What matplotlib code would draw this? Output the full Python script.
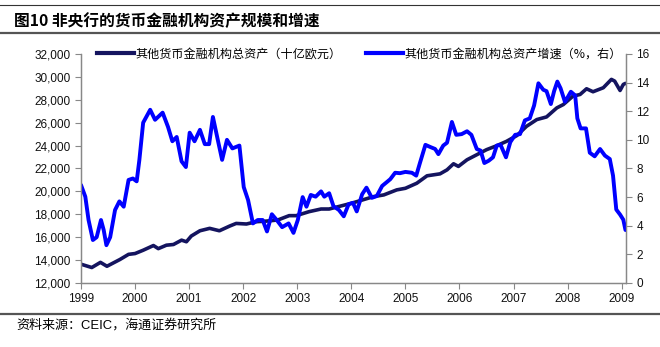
import matplotlib
matplotlib.use("Agg")
import matplotlib.pyplot as plt
from matplotlib.lines import Line2D
from matplotlib.ticker import FuncFormatter

plt.rcParams['font.family'] = ['Liberation Sans', 'Noto Sans CJK SC', 'DejaVu Sans']

# total assets of non-central-bank MFIs (bn EUR), left axis
asset_t = [1999.00, 1999.20, 1999.36, 1999.48, 1999.72, 1999.88, 2000.00, 2000.15, 2000.34,
           2000.43, 2000.58, 2000.71, 2000.86, 2000.95, 2001.04, 2001.20, 2001.38, 2001.56,
           2001.75, 2001.87, 2002.06, 2002.24, 2002.42, 2002.64, 2002.85, 2002.98, 2003.22,
           2003.44, 2003.59, 2004.00, 2004.41, 2004.60, 2004.84, 2005.00, 2005.21, 2005.40,
           2005.64, 2005.77, 2005.89, 2005.98, 2006.14, 2006.32, 2006.50, 2006.69, 2006.87,
           2007.06, 2007.24, 2007.43, 2007.61, 2007.80, 2007.92, 2008.10, 2008.23, 2008.35,
           2008.47, 2008.66, 2008.81, 2008.87, 2008.97, 2009.03, 2009.07]
assets = [13640, 13350, 13800, 13460, 14050, 14500, 14570, 14860, 15270,
          15000, 15300, 15360, 15740, 15600, 16100, 16560, 16770, 16560,
          16970, 17200, 17150, 17350, 17400, 17500, 17880, 17880, 18230,
          18460, 18460, 18960, 19540, 19690, 20130, 20270, 20710, 21360,
          21530, 21880, 22410, 22180, 22760, 23200, 23640, 23990, 24370,
          24870, 25680, 26270, 26500, 27290, 27580, 28320, 28460, 28960,
          28700, 29050, 29780, 29630, 28810, 29340, 29430]

# growth rate (%), right axis
growth_t = [1999.00, 1999.08, 1999.14, 1999.22, 1999.29, 1999.37, 1999.42, 1999.47, 1999.54,
            1999.63, 1999.71, 1999.79, 1999.88, 1999.96, 2000.03, 2000.08, 2000.15, 2000.28,
            2000.37, 2000.51, 2000.61, 2000.69, 2000.77, 2000.86, 2000.94, 2001.01, 2001.10,
            2001.20, 2001.29, 2001.37, 2001.44, 2001.53, 2001.61, 2001.70, 2001.80, 2001.93,
            2002.01, 2002.09, 2002.18, 2002.27, 2002.36, 2002.44, 2002.53, 2002.62, 2002.72,
            2002.84, 2002.93, 2003.01, 2003.10, 2003.17, 2003.25, 2003.34, 2003.44, 2003.50,
            2003.59, 2003.67, 2003.77, 2003.86, 2003.95, 2004.03, 2004.10, 2004.20, 2004.28,
            2004.38, 2004.47, 2004.57, 2004.66, 2004.72, 2004.81, 2004.90, 2005.00, 2005.12,
            2005.20, 2005.27, 2005.37, 2005.46, 2005.55, 2005.61, 2005.70, 2005.77, 2005.86,
            2005.94, 2006.04, 2006.14, 2006.22, 2006.32, 2006.39, 2006.46, 2006.54, 2006.62,
            2006.69, 2006.76, 2006.86, 2006.94, 2007.03, 2007.12, 2007.21, 2007.30, 2007.38,
            2007.46, 2007.55, 2007.61, 2007.69, 2007.75, 2007.81, 2007.87, 2007.95, 2007.99,
            2008.06, 2008.14, 2008.18, 2008.24, 2008.34, 2008.41, 2008.50, 2008.60, 2008.69,
            2008.78, 2008.84, 2008.90, 2008.97, 2009.03, 2009.07]
growth = [6.85, 6.03, 4.4, 3.0, 3.2, 4.4, 3.7, 2.64, 3.2,
          5.1, 5.7, 5.33, 7.2, 7.3, 7.1, 8.6, 11.2, 12.1,
          11.4, 11.9, 10.9, 9.9, 10.2, 8.5, 8.1, 10.5, 9.9,
          10.7, 9.7, 9.7, 11.6, 10.0, 8.6, 10.0, 9.4, 9.6,
          6.7, 5.8, 4.16, 4.4, 4.4, 3.6, 4.8, 4.4, 3.9,
          4.16, 3.5, 4.4, 6.0, 5.33, 6.15, 6.03, 6.4, 6.03,
          6.27, 5.36, 5.1, 4.66, 5.5, 5.6, 5.0, 6.2, 6.66,
          5.95, 6.07, 6.78, 7.06, 7.25, 7.7, 7.67, 7.76, 7.7,
          7.5, 8.4, 9.65, 9.5, 9.36, 9.0, 9.6, 9.8, 11.25,
          10.35, 10.4, 10.6, 10.35, 9.36, 9.25, 8.38, 8.54, 8.78,
          9.6, 9.65, 8.78, 9.84, 10.35, 10.4, 11.36, 11.5, 12.4,
          13.95, 13.5, 13.4, 12.5, 13.4, 14.07, 13.6, 12.66, 12.9,
          13.36, 13.1, 11.5, 10.8, 10.8, 9.1, 8.85, 9.36, 8.9,
          8.66, 7.5, 5.13, 4.78, 4.42, 3.7]

years = list(range(1999, 2010))
label_assets = '其他货币金融机构总资产（十亿欧元）'
label_growth = '其他货币金融机构总资产增速（%，右）'
title = '图10 非央行的货币金融机构资产规模和增速'
source = '资料来源：CEIC，海通证券研究所'

navy = '#14145f'
blue = '#0000ff'
spine_c = '#888888'

fig = plt.figure(figsize=(6.6, 3.47), dpi=100)
ax = fig.add_axes([0.1227, 0.1845, 0.8258, 0.66])
ax2 = ax.twinx()

ax.plot(asset_t, assets, color=navy, lw=2.6, solid_capstyle='round', solid_joinstyle='round')
ax2.plot(growth_t, growth, color=blue, lw=2.8, solid_capstyle='round', solid_joinstyle='round')

ax.set_xlim(1999, 2009.08)
ax.set_ylim(12000, 32000)
ax.set_yticks(range(12000, 32001, 2000))
ax.yaxis.set_major_formatter(FuncFormatter(lambda v, p: f'{int(v):,}'))
ax2.set_ylim(0, 16)
ax2.set_yticks(range(0, 17, 2))
ax.set_xticks(years)
ax.set_xticklabels([str(y) for y in years])

for a in (ax, ax2):
    a.spines['top'].set_visible(False)
    for s in ('left', 'right', 'bottom'):
        a.spines[s].set_color(spine_c)
        a.spines[s].set_linewidth(0.9)
    a.tick_params(colors=spine_c, labelcolor='#111111', labelsize=8.5, length=4, width=0.8)

handles = [Line2D([], [], color=navy, lw=3), Line2D([], [], color=blue, lw=3)]
ax.legend(handles, [label_assets, label_growth], loc='center left', ncol=2, frameon=False,
          bbox_to_anchor=(0.029, 1.0), borderpad=0, borderaxespad=0,
          handlelength=3.1, handletextpad=0.1, columnspacing=2.0,
          prop={'family': ['Noto Sans CJK SC'], 'size': 8.7})

# header / footer rules
fig.add_artist(Line2D([0, 1], [1 - 5 / 347] * 2, color='#333333', lw=0.8))
fig.add_artist(Line2D([0, 1], [1 - 33 / 347] * 2, color='#555555', lw=1.6))
fig.add_artist(Line2D([0, 1], [1 - 314 / 347] * 2, color='#555555', lw=1.6))
fig.text(14 / 660, 1 - 20.5 / 347, title, fontsize=11.3, fontweight='bold', va='center',
         family=['Noto Sans CJK SC'])
fig.text(16 / 660, 1 - 325 / 347, source, fontsize=9.4, va='center',
         family=['Liberation Sans', 'Noto Sans CJK SC'])

fig.savefig('out.png', dpi=100)
